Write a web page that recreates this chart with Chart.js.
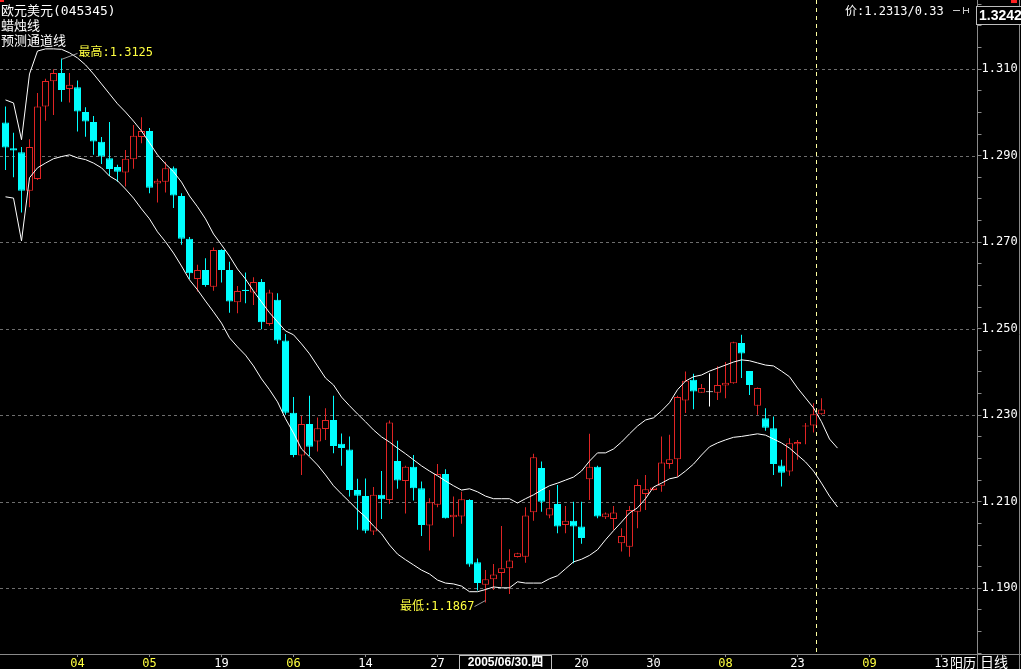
<!DOCTYPE html>
<html>
<head>
<meta charset="utf-8">
<script src="https://cdn.jsdelivr.net/npm/chart.js@4.4.1/dist/chart.umd.min.js"></script>
<style>
  html, body { margin: 0; padding: 0; background: #000; overflow: hidden; }
  canvas { display: block; }
</style>
</head>
<body>
<canvas id="kline" width="1021" height="669"></canvas>
<script>
// Daily candles (open / high / low / close)
const opens = [1.2977,1.2917,1.2908,1.2819,1.2846,1.3014,1.3072,1.3091,1.3054,1.3058,
  1.3001,1.2978,1.2932,1.2894,1.2874,1.2861,1.2892,1.2943,1.2957,1.2836,
  1.2840,1.2871,1.2807,1.2708,1.2615,1.2636,1.2597,1.2682,1.2636,1.2561,
  1.2590,1.2584,1.2608,1.2511,1.2567,1.2473,1.2306,1.2207,1.2280,1.2239,
  1.2268,1.2289,1.2234,1.2221,1.2127,1.2113,1.2031,1.2116,1.2104,1.2194,
  1.2148,1.2181,1.2131,1.2045,1.2093,1.2164,1.2064,1.2066,1.2104,1.1960,
  1.1908,1.1921,1.1935,1.1946,1.1972,1.1973,1.2076,1.2178,1.2068,1.2095,
  1.2046,1.2056,1.2043,1.2152,1.2181,1.2064,1.2060,1.2004,1.1996,1.2077,
  1.2118,1.2127,1.2137,1.2187,1.2198,1.2334,1.2382,1.2352,1.2353,1.2352,
  1.2369,1.2374,1.2467,1.2402,1.2322,1.2293,1.2270,1.2184,1.2170,1.2233,
  1.2274,1.2276,1.2302];
const highs = [1.3014,1.2953,1.2920,1.2938,1.3045,1.3078,1.3100,1.3125,1.3091,1.3074,
  1.3012,1.2992,1.2943,1.2978,1.2879,1.2913,1.2971,1.2989,1.2964,1.2847,
  1.2886,1.2875,1.2813,1.2712,1.2648,1.2663,1.2688,1.2684,1.2655,1.2599,
  1.2630,1.2619,1.2615,1.2590,1.2582,1.2488,1.2342,1.2298,1.2345,1.2295,
  1.2316,1.2345,1.2258,1.2251,1.2153,1.2154,1.2134,1.2171,1.2288,1.2241,
  1.2183,1.2208,1.2147,1.2108,1.2187,1.2175,1.2112,1.2123,1.2106,1.1969,
  1.1942,1.1956,1.2044,1.1990,1.1982,1.2087,1.2211,1.2193,1.2127,1.2139,
  1.2090,1.2100,1.2100,1.2257,1.2183,1.2075,1.2090,1.2039,1.2090,1.2152,
  1.2162,1.2134,1.2251,1.2255,1.2345,1.2401,1.2396,1.2372,1.2397,1.2413,
  1.2423,1.2470,1.2486,1.2402,1.2364,1.2316,1.2297,1.2197,1.2247,1.2243,
  1.2282,1.2328,1.2339];
const lows = [1.2867,1.2850,1.2769,1.2781,1.2844,1.2981,1.2994,1.3025,1.3023,1.2956,
  1.2944,1.2902,1.2881,1.2853,1.2840,1.2829,1.2870,1.2929,1.2813,1.2792,
  1.2815,1.2779,1.2694,1.2615,1.2586,1.2597,1.2588,1.2607,1.2537,1.2536,
  1.2559,1.2555,1.2499,1.2507,1.2465,1.2301,1.2203,1.2162,1.2206,1.2216,
  1.2243,1.2212,1.2183,1.2112,1.2035,1.2027,1.2023,1.2060,1.2095,1.2130,
  1.2073,1.2103,1.2021,1.1987,1.2087,1.2061,1.2019,1.2049,1.1950,1.1895,
  1.1867,1.1896,1.1904,1.1887,1.1971,1.1959,1.2056,1.2077,1.2062,1.2027,
  1.2027,1.1958,1.2003,1.2104,1.2062,1.2060,1.2035,1.1985,1.1973,1.2039,
  1.2081,1.2126,1.2123,1.2176,1.2158,1.2305,1.2314,1.2352,1.2320,1.2335,
  1.2339,1.2373,1.2386,1.2347,1.2301,1.2264,1.2162,1.2135,1.2160,1.2197,
  1.2233,1.2260,1.2301];
const closes = [1.2919,1.2912,1.2819,1.2920,1.3014,1.3073,1.3091,1.3052,1.3064,1.3002,
  1.2979,1.2933,1.2898,1.2869,1.2863,1.2893,1.2946,1.2957,1.2826,1.2842,
  1.2871,1.2808,1.2708,1.2628,1.2636,1.2601,1.2682,1.2636,1.2563,1.2587,
  1.2587,1.2608,1.2515,1.2584,1.2473,1.2306,1.2208,1.2280,1.2227,1.2270,
  1.2289,1.2229,1.2224,1.2127,1.2114,1.2033,1.2116,1.2106,1.2283,1.2149,
  1.2181,1.2131,1.2046,1.2099,1.2164,1.2062,1.2070,1.2106,1.1955,1.1912,
  1.1921,1.1932,1.1946,1.1964,1.1981,1.2068,1.2203,1.2100,1.2085,1.2043,
  1.2056,1.2043,1.2016,1.2181,1.2066,1.2073,1.2075,1.2021,1.2081,1.2139,
  1.2129,1.2133,1.2191,1.2198,1.2342,1.2380,1.2355,1.2363,1.2353,1.2370,
  1.2375,1.2469,1.2443,1.2370,1.2363,1.2271,1.2187,1.2167,1.2235,1.2238,
  1.2276,1.2302,1.2313];

// Forecast channel (预测通道线), upper and lower band
const upperBand = [1.3029,1.3022,1.2937,1.3089,1.3142,1.3147,1.3147,1.3146,1.3138,1.3126,
  1.3110,1.3089,1.3066,1.3043,1.3020,1.3001,1.2980,1.2957,1.2930,1.2902,
  1.2881,1.2863,1.2839,1.2807,1.2782,1.2754,1.2719,1.2694,1.2668,1.2638,
  1.2615,1.2587,1.2562,1.2537,1.2516,1.2495,1.2486,1.2465,1.2442,1.2414,
  1.2386,1.2370,1.2342,1.2322,1.2303,1.2285,1.2266,1.2250,1.2238,1.2224,
  1.2211,1.2197,1.2183,1.2171,1.2160,1.2148,1.2137,1.2127,1.2130,1.2123,
  1.2113,1.2107,1.2107,1.2107,1.2097,1.2107,1.2116,1.2127,1.2137,1.2143,
  1.2150,1.2157,1.2171,1.2194,1.2213,1.2213,1.2222,1.2238,1.2257,1.2275,
  1.2289,1.2294,1.2310,1.2329,1.2359,1.2379,1.2389,1.2393,1.2402,1.2409,
  1.2416,1.2423,1.2428,1.2426,1.2421,1.2416,1.2414,1.2402,1.2389,1.2363,
  1.2340,1.2317,1.2285,1.2245,1.2224];
const lowerBand = [1.2805,1.2802,1.2703,1.2849,1.2872,1.2883,1.2893,1.2898,1.2902,1.2895,
  1.2891,1.2883,1.2872,1.2853,1.2842,1.2823,1.2802,1.2777,1.2754,1.2724,
  1.2701,1.2675,1.2645,1.2613,1.2590,1.2564,1.2539,1.2513,1.2479,1.2458,
  1.2439,1.2414,1.2384,1.2359,1.2331,1.2292,1.2259,1.2222,1.2204,1.2185,
  1.2162,1.2137,1.2118,1.2100,1.2081,1.2065,1.2044,1.2026,1.2000,1.1979,
  1.1966,1.1954,1.1942,1.1933,1.1919,1.1912,1.1910,1.1905,1.1892,1.1892,
  1.1897,1.1903,1.1901,1.1901,1.1915,1.1912,1.1912,1.1912,1.1922,1.1929,
  1.1945,1.1961,1.1967,1.1976,1.1989,1.2012,1.2033,1.2053,1.2074,1.2086,
  1.2107,1.2134,1.2143,1.2153,1.2157,1.2171,1.2187,1.2208,1.2227,1.2236,
  1.2243,1.2249,1.2251,1.2254,1.2257,1.2254,1.2245,1.2236,1.2224,1.2208,
  1.2192,1.2171,1.2143,1.2113,1.2088];

// Axis text
const slotCount = 122;
const xTickIndex = [9, 18, 27, 36, 45, 54, 63, 72, 81, 90, 99, 108, 117];
const xTickText = ['04', '05', '19', '06', '14', '27', '', '20', '30', '08', '23', '09', '13'];
const monthTicks = ['04', '05', '06', '08', '09'];
const yLabelValues = [1.19, 1.21, 1.23, 1.25, 1.27, 1.29, 1.31];
const yMin = 1.1748, yMax = 1.3260;
const cursorDate = '2005/06/30.四';
const cursorSlot = 101.4;

const RED = '#e02424';
const CYAN = '#00ffff';
const WHITE = '#ffffff';
const YELLOW = '#ffff40';
const AXIS = '#8a8a8a';
const GRID = '#6e6e6e';
const MONO = '"DejaVu Sans Mono", "Noto Sans CJK SC", monospace';

const xLabels = Array.from({ length: slotCount }, () => '');
xTickIndex.forEach((idx, k) => { xLabels[idx] = xTickText[k]; });

function candleColor(i) {
  if (closes[i] > opens[i]) return RED;
  if (closes[i] < opens[i]) return CYAN;
  return WHITE;
}
const wickColors = opens.map((o, i) => candleColor(i));
const bodyFill = opens.map((o, i) => candleColor(i) === RED ? '#000' : candleColor(i));

function line(ctx, x1, y1, x2, y2) {
  ctx.beginPath();
  ctx.moveTo(x1, y1);
  ctx.lineTo(x2, y2);
  ctx.stroke();
}

// no extra room around the axes, the plot runs to the canvas top
function noPadding(scale) {
  scale.paddingTop = 0;
  scale.paddingBottom = 0;
  scale.paddingLeft = 0;
  scale.paddingRight = 0;
}

// Grid, cursor line and all the text around the plot
const decor = {
  id: 'decor',
  beforeDatasetsDraw(chart) {
    const { ctx, chartArea: a, scales: { x, y } } = chart;
    ctx.save();
    ctx.lineWidth = 1;
    ctx.strokeStyle = GRID;
    ctx.setLineDash([3, 3]);
    yLabelValues.forEach(v => {
      const py = Math.round(y.getPixelForValue(v)) + 0.5;
      line(ctx, 0, py, a.right, py);
    });
    ctx.strokeStyle = '#ffffa0';
    ctx.setLineDash([4, 4]);
    const cx = Math.floor(x.getPixelForValue(cursorSlot)) + 0.5;
    line(ctx, cx, 0, cx, a.bottom);
    ctx.restore();
  },
  afterDraw(chart) {
    const { ctx, chartArea: a, scales: { x, y } } = chart;
    ctx.save();
    ctx.lineWidth = 1;
    ctx.strokeStyle = AXIS;
    // frame lines
    line(ctx, 0, a.bottom + 0.5, chart.width, a.bottom + 0.5);
    line(ctx, Math.round(a.right) - 0.5, a.bottom, Math.round(a.right) - 0.5, chart.height);
    line(ctx, chart.width - 1.5, 0, chart.width - 1.5, chart.height);

    ctx.textBaseline = 'middle';
    ctx.textAlign = 'left';
    ctx.fillStyle = WHITE;
    ctx.font = '13px ' + MONO;
    ctx.fillText('欧元美元(045345)', 1, 12);
    ctx.fillText('蜡烛线', 1, 27);
    ctx.fillText('预测通道线', 1, 42);

    ctx.font = '12px ' + MONO;
    ctx.fillText('价:' + closes[closes.length - 1].toFixed(4) + '/0.33', 845, 12);
    ctx.strokeStyle = '#c8c8c8';
    line(ctx, 953, 10.5, 960, 10.5);
    line(ctx, 963.5, 7, 963.5, 14);
    line(ctx, 963, 10.5, 968, 10.5);
    line(ctx, 968.5, 8, 968.5, 13);

    // highest / lowest markers
    const hi = highs.indexOf(Math.max(...highs));
    const lo = lows.indexOf(Math.min(...lows));
    const hx = x.getPixelForValue(hi), hy = y.getPixelForValue(highs[hi]);
    const lx = x.getPixelForValue(lo), ly = y.getPixelForValue(lows[lo]);
    ctx.strokeStyle = '#9a9a9a';
    line(ctx, hx, hy + 1, hx + 16, hy - 5);
    line(ctx, lx, ly - 2, lx - 11, ly + 4);
    ctx.fillStyle = YELLOW;
    ctx.fillText('最高:' + highs[hi].toFixed(4), hx + 17, hy - 6);
    ctx.textAlign = 'right';
    ctx.fillText('最低:' + lows[lo].toFixed(4), lx - 11, ly + 4);

    // price box top right
    ctx.fillStyle = '#000';
    ctx.fillRect(976, 6, 45, 19);
    ctx.strokeStyle = '#bdbdbd';
    ctx.strokeRect(976.5, 6.5, 46, 18);
    ctx.fillStyle = WHITE;
    ctx.textAlign = 'left';
    ctx.font = 'bold 14px "Liberation Sans", Arial, sans-serif';
    ctx.fillText('1.3242', 979, 16);
    ctx.fillStyle = '#ff2020';
    ctx.fillRect(1011, 0, 6, 3);
    ctx.fillRect(0, 0, 4, 2);

    // cursor date box on the time axis
    const bx = x.getPixelForValue(63);
    ctx.fillStyle = '#000';
    ctx.fillRect(bx - 50, a.bottom + 1, 93, 14);
    ctx.strokeStyle = '#c0c0c0';
    ctx.strokeRect(Math.round(bx - 50) + 0.5, a.bottom + 1.5, 92, 14);
    ctx.fillStyle = WHITE;
    ctx.textAlign = 'center';
    ctx.font = 'bold 12px "Liberation Sans", "Noto Sans CJK SC", sans-serif';
    ctx.fillText(cursorDate, bx - 4, a.bottom + 8.5);

    // calendar / period tags
    const axisX = Math.round(a.right) - 1;
    ctx.fillStyle = '#000';
    ctx.fillRect(949, a.bottom + 1, axisX - 949, 14);
    ctx.fillStyle = WHITE;
    ctx.font = '13px "Noto Sans CJK SC", sans-serif';
    ctx.textAlign = 'right';
    ctx.fillText('阳历', axisX - 1, a.bottom + 8);
    ctx.textAlign = 'left';
    ctx.font = '14px "Noto Sans CJK SC", sans-serif';
    ctx.fillText('日线', axisX + 3, a.bottom + 8);
    ctx.restore();
  }
};

const ctx = document.getElementById('kline').getContext('2d');
new Chart(ctx, {
  type: 'bar',
  data: {
    labels: xLabels,
    datasets: [
      {
        label: 'wick',
        data: lows.map((l, i) => [l, highs[i]]),
        backgroundColor: wickColors,
        borderWidth: 0,
        barThickness: 1,
        inflateAmount: 0,
        grouped: false,
        order: 3
      },
      {
        label: 'body',
        data: opens.map((o, i) => [o, closes[i]]),
        backgroundColor: bodyFill,
        borderColor: wickColors,
        borderWidth: 1,
        borderSkipped: false,
        barThickness: 7,
        minBarLength: 1,
        inflateAmount: 0,
        grouped: false,
        order: 2
      },
      {
        type: 'line',
        label: 'upper',
        data: upperBand,
        borderColor: WHITE,
        borderWidth: 1,
        pointRadius: 0,
        tension: 0,
        order: 1
      },
      {
        type: 'line',
        label: 'lower',
        data: lowerBand,
        borderColor: WHITE,
        borderWidth: 1,
        pointRadius: 0,
        tension: 0,
        order: 1
      }
    ]
  },
  options: {
    responsive: false,
    animation: false,
    events: [],
    layout: { padding: { left: 1.5, right: 0, top: 0, bottom: 0 }, autoPadding: false },
    plugins: {
      legend: { display: false },
      tooltip: { enabled: false }
    },
    scales: {
      x: {
        offset: true,
        afterFit(scale) { scale.height = 15; noPadding(scale); },
        border: { display: false },
        grid: {
          offset: false,
          drawOnChartArea: false,
          tickLength: 3,
          tickColor: c => (c.tick && c.tick.label) ? AXIS : 'rgba(0,0,0,0)'
        },
        ticks: {
          autoSkip: false,
          maxRotation: 0,
          padding: 0,
          font: { family: MONO, size: 12 },
          color: c => monthTicks.includes(c.tick.label) ? YELLOW : WHITE
        }
      },
      y: {
        position: 'right',
        min: yMin,
        max: yMax,
        afterFit(scale) { scale.width = 43.5; noPadding(scale); },
        afterBuildTicks(scale) {
          const t = [];
          for (let k = 235; k <= 265; k++) t.push({ value: k * 0.005 });
          scale.ticks = t;
        },
        border: { display: true, color: AXIS },
        grid: { drawOnChartArea: false, tickLength: 4, color: AXIS },
        ticks: {
          autoSkip: false,
          padding: 0,
          color: WHITE,
          font: { family: MONO, size: 12 },
          callback: v => yLabelValues.some(l => Math.abs(l - v) < 1e-6) ? v.toFixed(3) : ''
        }
      }
    }
  },
  plugins: [decor]
});
</script>
</body>
</html>
